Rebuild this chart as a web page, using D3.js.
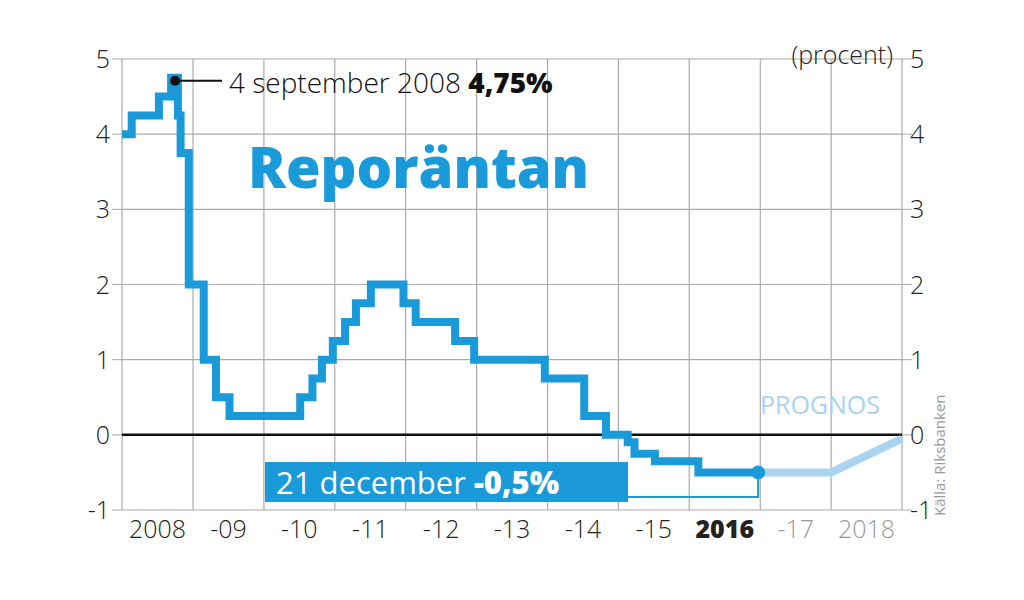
<!DOCTYPE html>
<html><head><meta charset="utf-8">
<script src="https://cdn.jsdelivr.net/npm/d3@7"></script>
<style>body{margin:0;background:#fff}text{font-family:"Open Sans",Lato,sans-serif}</style>
</head><body><svg id="c" width="1024" height="600"></svg>
<script>
const rateDates=["2008-01-01","2008-02-20","2008-07-09","2008-09-10","2008-10-15","2008-10-29","2008-12-10","2009-02-25","2009-04-29","2009-07-08","2010-07-07","2010-09-08","2010-10-27","2010-12-22","2011-02-23","2011-04-20","2011-07-06","2011-12-21","2012-02-22","2012-09-12","2012-12-19","2013-12-18","2014-07-09","2014-10-29","2015-02-18","2015-03-25","2015-07-08","2016-02-17","2016-12-21"];
const rateValues=[4.00,4.25,4.50,4.75,4.25,3.75,2.00,1.00,0.50,0.25,0.50,0.75,1.00,1.25,1.50,1.75,2.00,1.75,1.50,1.25,1.00,0.75,0.25,0.00,-0.10,-0.25,-0.35,-0.50,-0.50];
const forecastDates=["2016-12-21","2018-01-01","2019-01-01"];
const forecastValues=[-0.50,-0.50,-0.05];
const yTicks=[-1,0,1,2,3,4,5];
const xLabels=["2008","-09","-10","-11","-12","-13","-14","-15","2016","-17","2018"];

const svg=d3.select("#c");
const pd=d3.timeParse("%Y-%m-%d");
const x=d3.scaleTime().domain([pd("2008-01-01"),pd("2019-01-01")]).range([122,902]);
const y=d3.scaleLinear().domain([-1,5]).range([510,59]);
const blue="#1a9ad9", light="#a8d4f0";

const years=d3.range(2008,2020).map(yr=>pd(yr+"-01-01"));
svg.selectAll(".vg").data(years).enter().append("line").attr("x1",d=>x(d)).attr("x2",d=>x(d)).attr("y1",59).attr("y2",510).attr("stroke","#aaa").attr("stroke-width",1.2);
svg.selectAll(".hg").data(yTicks.filter(d=>d!==0)).enter().append("line").attr("x1",122).attr("x2",902).attr("y1",d=>y(d)).attr("y2",d=>y(d)).attr("stroke","#aaa").attr("stroke-width",1.2);
svg.append("line").attr("x1",122).attr("x2",902).attr("y1",y(0)).attr("y2",y(0)).attr("stroke","#111").attr("stroke-width",2.5);
svg.selectAll(".tl").data(yTicks).enter().append("line").attr("x1",112).attr("x2",122).attr("y1",d=>y(d)).attr("y2",d=>y(d)).attr("stroke","#aaa");
svg.selectAll(".tr").data(yTicks).enter().append("line").attr("x1",902).attr("x2",912).attr("y1",d=>y(d)).attr("y2",d=>y(d)).attr("stroke","#aaa");
svg.selectAll(".yl").data(yTicks).enter().append("text").attr("x",110).attr("y",d=>y(d)+9).attr("text-anchor","end").attr("font-size",25).attr("font-weight",300).attr("fill","#222").text(d=>d);
svg.selectAll(".yr").data(yTicks).enter().append("text").attr("x",910).attr("y",d=>y(d)+9).attr("text-anchor","start").attr("font-size",25).attr("font-weight",300).attr("fill","#222").text(d=>d);
svg.append("text").attr("x",893).attr("y",64).attr("text-anchor","end").attr("font-size",25).attr("font-weight",300).attr("fill","#222").text("(procent)");
svg.selectAll(".xl").data(xLabels).enter().append("text")
 .attr("x",(d,i)=>(x(years[i])+x(years[i+1]))/2).attr("y",538).attr("text-anchor","middle").attr("font-size",25)
 .attr("font-weight",d=>d==="2016"?800:300).attr("fill",(d,i)=>i>=9?"#999":"#222").text(d=>d);

const fc=forecastDates.map((d,i)=>[x(pd(d)),y(forecastValues[i])]);
svg.append("path").attr("d",d3.line()(fc)).attr("fill","none").attr("stroke",light).attr("stroke-width",8);
svg.append("text").attr("x",880).attr("y",414).attr("text-anchor","end").attr("font-size",25).attr("fill",light).text("PROGNOS");

const pts=rateDates.map((d,i)=>[x(pd(d)),y(rateValues[i])]);
svg.append("path").attr("d",d3.line().curve(d3.curveStepAfter)(pts)).attr("fill","none").attr("stroke",blue).attr("stroke-width",8);

const px=x(pd("2008-09-10"))+4,py=y(4.75)+3;
svg.append("line").attr("x1",px).attr("x2",222).attr("y1",py).attr("y2",py).attr("stroke","#111").attr("stroke-width",2);
svg.append("circle").attr("cx",px).attr("cy",py).attr("r",5).attr("fill","#111");
const t1=svg.append("text").attr("x",229).attr("y",93).attr("font-size",28).attr("fill","#111");
t1.append("tspan").attr("font-weight",300).text("4 september 2008 ");
t1.append("tspan").attr("font-weight",800).text("4,75%");
svg.append("text").attr("x",248).attr("y",188).attr("font-size",56).attr("font-weight",800).attr("fill",blue).text("Reporäntan");

const ex=x(pd("2016-12-21")),ey=y(-0.5);
svg.append("path").attr("d",`M628,${497}H${ex}V${ey}`).attr("fill","none").attr("stroke",blue).attr("stroke-width",2);
svg.append("rect").attr("x",265).attr("y",462).attr("width",363).attr("height",40).attr("fill",blue);
const t2=svg.append("text").attr("x",276).attr("y",494).attr("font-size",31).attr("fill","#fff");
t2.append("tspan").attr("font-weight",400).text("21 december ");
t2.append("tspan").attr("font-weight",800).text("-0,5%");
svg.append("circle").attr("cx",ex).attr("cy",ey).attr("r",7).attr("fill",blue);

svg.append("text").attr("transform","translate(945,516) rotate(-90)").attr("font-size",15).attr("fill","#999").text("Källa: Riksbanken");
</script></body></html>
